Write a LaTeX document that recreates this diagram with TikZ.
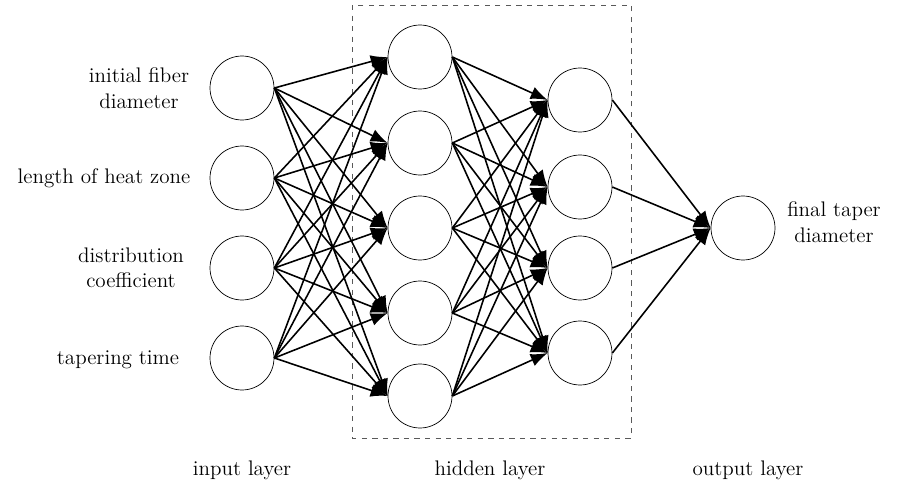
\documentclass[tikz,border=0pt]{standalone}
\usetikzlibrary{arrows.meta}
\tikzset{>={Latex[length=3.4mm,width=2.6mm]}}
\tikzset{neuron/.style={draw,circle,minimum size=12.8mm,inner sep=0pt,fill=white}}
\tikzset{lbl/.style={font=\fontsize{12}{14.5}\selectfont,align=center}}
\tikzset{cn/.style={->,line width=0.9pt}}

\begin{document}
\begin{tikzpicture}[x=0.02cm,y=-0.02cm]
        \useasboundingbox (0,0) rectangle (900,490);

        \draw[dashed,gray!70!black] (352,5) rectangle (631,438);

        % input layer
        \foreach \i/\y in {1/88,2/178,3/268,4/358}
            \node[neuron] (in\i) at (242,\y) {};
        % first hidden layer
        \foreach \i/\y in {1/57,2/143,3/228,4/313,5/396}
            \node[neuron] (ha\i) at (420,\y) {};
        % second hidden layer
        \foreach \i/\y in {1/100,2/187,3/268,4/353}
            \node[neuron] (hb\i) at (580,\y) {};
        \node[neuron] (out) at (743,228) {};

        \node[lbl] (t1) at (139,88) {initial fiber\\diameter};
        \node[lbl] (t2) at (104,178) {length of heat zone};
        \node[lbl] (t3) at (131,268) {distribution\\coefficient};
        \node[lbl] (t4) at (118,360) {tapering time};
        \node[lbl] (t5) at (834,222) {final taper\\diameter};

        \node[lbl] (l1) at (242,470) {input layer};
        \node[lbl] (l2) at (490,470) {hidden layer};
        \node[lbl] (l3) at (748,470) {output layer};

        \foreach \i in {1,...,4}
            \foreach \j in {1,...,5}
                \draw[cn] (in\i.east) -- (ha\j.west);
        \foreach \i in {1,...,5}
            \foreach \j in {1,...,4}
                \draw[cn] (ha\i.east) -- (hb\j.west);
        \foreach \i in {1,...,4}
            \draw[cn] (hb\i.east) -- (out.west);
\end{tikzpicture}
\end{document}
